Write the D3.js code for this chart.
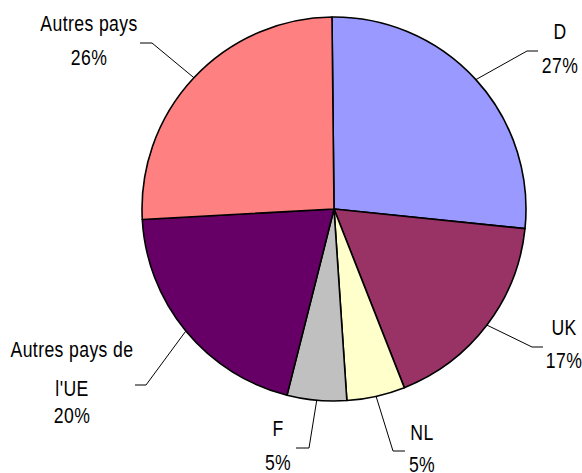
<!DOCTYPE html>
<html>
<head>
  <meta charset="utf-8">
  <script src="https://d3js.org/d3.v7.min.js"></script>
  <style>
    body { margin: 0; background: #fff; }
    text { font-family: "Liberation Sans", Arial, sans-serif; font-size: 22px; fill: #000; }
  </style>
</head>
<body>
  <svg width="582" height="473"></svg>
  <script>
    // slices, clockwise from 12 o'clock
    var categories = ["D", "UK", "NL", "F", "Autres pays de l'UE", "Autres pays"];
    var shares = [26.8, 17.4, 4.9, 5.0, 20.2, 25.7];
    var colors = ["#9999FF", "#993366", "#FFFFCC", "#C0C0C0", "#660066", "#FF8080"];
    var labelLines = [["D"], ["UK"], ["NL"], ["F"], ["Autres pays de", "l'UE"], ["Autres pays"]];

    var svg = d3.select("svg"),
        cx = 334, cy = 209, radius = 192;

    // where each label sits (elbow of the leader, end of its short flat part, text centre, baselines)
    var layout = [
      {elbow: [527, 51], end: 538, tx: 560, ys: [39, 73]},
      {elbow: [532, 347], end: 543, tx: 564, ys: [335, 368]},
      {elbow: [393, 451], end: 405, tx: 422, ys: [440, 472]},
      {elbow: [309, 448], end: 296, tx: 278, ys: [436, 470]},
      {elbow: [146, 385], end: 135, tx: 72, ys: [357, 396, 423]},
      {elbow: [152, 43], end: 140, tx: 89, ys: [31, 65]}
    ];

    var start = -0.0105;
    var pie = d3.pie().sort(null).startAngle(start).endAngle(start + 2 * Math.PI);
    var arcs = pie(shares);

    var arc = d3.arc().innerRadius(0).outerRadius(radius);
    var pct = d3.format(".0f");

    var g = svg.append("g").attr("transform", "translate(" + cx + "," + cy + ")");

    g.selectAll("path.slice")
      .data(arcs)
      .enter()
      .append("path")
      .attr("class", "slice")
      .attr("d", arc)
      .attr("fill", function(d, i) { return colors[i]; })
      .attr("stroke", "#000")
      .attr("stroke-width", 1.6)
      .attr("stroke-linejoin", "round");

    // leader lines
    svg.selectAll("polyline.leader")
      .data(arcs)
      .enter()
      .append("polyline")
      .attr("class", "leader")
      .attr("fill", "none")
      .attr("stroke", "#000")
      .attr("stroke-width", 1)
      .attr("points", function(d, i) {
        var a = (d.startAngle + d.endAngle) / 2,
            p0 = [cx + radius * Math.sin(a), cy - radius * Math.cos(a)],
            L = layout[i];
        return [p0, L.elbow, [L.end, L.elbow[1]]].map(function(p) { return p.join(","); }).join(" ");
      });

    // labels (squeezed horizontally, like the narrow original font)
    arcs.forEach(function(d, i) {
      var L = layout[i],
          lines = labelLines[i].concat([pct(d.value) + "%"]);
      lines.forEach(function(s, k) {
        svg.append("text")
          .attr("transform", "translate(" + L.tx + "," + L.ys[k] + ") scale(0.8,1)")
          .attr("text-anchor", "middle")
          .attr("letter-spacing", "0.5px")
          .text(s);
      });
    });
  </script>
</body>
</html>
